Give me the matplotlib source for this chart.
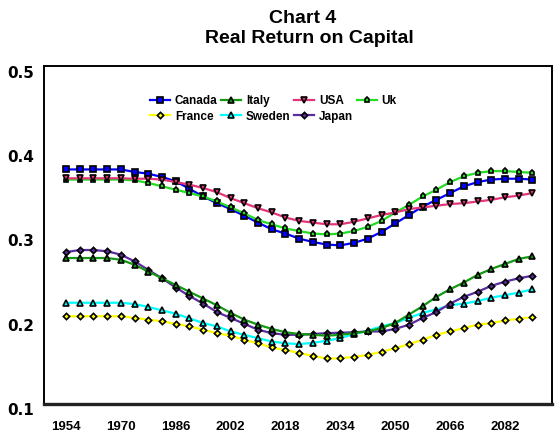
import matplotlib
matplotlib.use("Agg")
import matplotlib.pyplot as plt
from matplotlib.transforms import ScaledTranslation

years = [1954, 1958, 1962, 1966, 1970, 1974, 1978, 1982, 1986, 1990, 1994, 1998,
         2002, 2006, 2010, 2014, 2018, 2022, 2026, 2030, 2034, 2038, 2042, 2046,
         2050, 2054, 2058, 2062, 2066, 2070, 2074, 2078, 2082, 2086, 2090]

canada = [0.378, 0.378, 0.378, 0.378, 0.378, 0.375, 0.373, 0.369, 0.364, 0.355, 0.346, 0.338,
          0.331, 0.323, 0.315, 0.307, 0.302, 0.296, 0.292, 0.289, 0.288, 0.291, 0.296, 0.304,
          0.314, 0.324, 0.334, 0.342, 0.350, 0.358, 0.363, 0.366, 0.367, 0.367, 0.366]
italy = [0.273, 0.273, 0.273, 0.273, 0.271, 0.265, 0.257, 0.249, 0.241, 0.233, 0.225, 0.217,
         0.208, 0.200, 0.194, 0.189, 0.185, 0.183, 0.182, 0.181, 0.182, 0.184, 0.186, 0.190,
         0.196, 0.206, 0.216, 0.227, 0.236, 0.244, 0.253, 0.260, 0.266, 0.272, 0.275]
usa = [0.3675, 0.3675, 0.3675, 0.3675, 0.3675, 0.367, 0.367, 0.366, 0.363, 0.360, 0.356, 0.351,
       0.344, 0.338, 0.332, 0.327, 0.321, 0.317, 0.315, 0.313, 0.313, 0.316, 0.320, 0.324,
       0.327, 0.331, 0.333, 0.335, 0.337, 0.338, 0.340, 0.342, 0.345, 0.347, 0.350]
uk = [0.366, 0.366, 0.366, 0.366, 0.366, 0.365, 0.362, 0.358, 0.354, 0.350, 0.346, 0.340,
      0.333, 0.326, 0.318, 0.313, 0.308, 0.305, 0.302, 0.301, 0.302, 0.305, 0.310, 0.317,
      0.327, 0.336, 0.346, 0.354, 0.363, 0.370, 0.374, 0.376, 0.376, 0.375, 0.374]
france = [0.204, 0.204, 0.204, 0.204, 0.204, 0.202, 0.200, 0.198, 0.195, 0.192, 0.188, 0.184,
          0.181, 0.176, 0.172, 0.167, 0.164, 0.1605, 0.157, 0.154, 0.154, 0.156, 0.158, 0.162,
          0.166, 0.171, 0.176, 0.182, 0.186, 0.190, 0.194, 0.196, 0.199, 0.201, 0.203]
sweden = [0.220, 0.220, 0.220, 0.220, 0.220, 0.2185, 0.215, 0.211, 0.207, 0.2015, 0.196, 0.192,
          0.186, 0.182, 0.178, 0.174, 0.172, 0.171, 0.1725, 0.175, 0.178, 0.183, 0.187, 0.192,
          0.196, 0.202, 0.208, 0.212, 0.217, 0.219, 0.222, 0.226, 0.229, 0.232, 0.236]
japan = [0.280, 0.2825, 0.2825, 0.281, 0.277, 0.269, 0.259, 0.249, 0.238, 0.228, 0.219, 0.209,
         0.202, 0.195, 0.188, 0.184, 0.182, 0.182, 0.183, 0.184, 0.1845, 0.185, 0.186, 0.186,
         0.189, 0.194, 0.202, 0.209, 0.219, 0.227, 0.233, 0.240, 0.245, 0.249, 0.252]

series_names = ["Canada", "Italy", "USA", "Uk", "France", "Sweden", "Japan"]
x_tick_labels = ["1954", "1970", "1986", "2002", "2018", "2034", "2050", "2066", "2082"]
y_ticks = [0.1, 0.2, 0.3, 0.4, 0.5]

colors = {"Canada": "#0000FF", "Italy": "#119911", "USA": "#E6347A", "Uk": "#22DD22",
          "France": "#FFFF00", "Sweden": "#00FFFF", "Japan": "#5B2CA0"}
markers = {"Canada": "s", "Italy": "^", "USA": "v", "Uk": "p",
           "France": "D", "Sweden": "^", "Japan": "D"}
values = {"Canada": canada, "Italy": italy, "USA": usa, "Uk": uk,
          "France": france, "Sweden": sweden, "Japan": japan}

plt.rcParams["font.family"] = ["Liberation Sans", "DejaVu Sans"]

W, H = 555, 436
fig = plt.figure(figsize=(W / 100, H / 100), dpi=100)
ax = fig.add_axes([44 / W, (H - 404) / H, (552 - 44) / W, (404 - 66.5) / H])

handles = {}
draw_order = ["France", "Sweden", "Japan", "Italy", "Canada", "Uk", "USA"]
for name in draw_order:
    ms = 3.2 if markers[name] == "D" else 3.7
    h, = ax.plot(years, values[name], color=colors[name], lw=1.6,
                 marker=markers[name], markersize=ms, markeredgecolor="black",
                 markeredgewidth=1.2, markerfacecolor=colors[name], label=name)
    handles[name] = h

ax.set_xlim(1947.6, 2095.7)
ax.set_ylim(0.1, 0.5)
ax.set_xticks([int(t) for t in x_tick_labels])
ax.set_xticklabels(x_tick_labels, fontsize=9.5, fontweight="bold")
ax.set_yticks(y_ticks)
ax.set_yticklabels([f"{v:.1f}" for v in y_ticks], fontsize=11, fontweight="bold",
                   family="DejaVu Sans")
ax.tick_params(axis="both", length=0)
ax.tick_params(axis="x", pad=12)
ax.tick_params(axis="y", pad=7)

off = ScaledTranslation(0, -5 / 100, fig.dpi_scale_trans)
for lab in ax.get_yticklabels():
    lab.set_transform(lab.get_transform() + off)

for side in ["left", "right", "top"]:
    ax.spines[side].set_linewidth(1.4)
    ax.spines[side].set_color("black")
ax.spines["bottom"].set_linewidth(2.4)
ax.spines["bottom"].set_color("#222222")

order = ["Canada", "France", "Italy", "Sweden", "USA", "Japan", "Uk"]
leg = fig.legend([handles[n] for n in order], order, loc="upper left",
                 bbox_to_anchor=(150 / W, 1 - 95 / H), ncol=4, frameon=False,
                 prop={"family": "Liberation Sans", "weight": "bold", "size": 8.5},
                 handlelength=1.7, handletextpad=0.4, columnspacing=0.3,
                 labelspacing=0.3, borderpad=0, borderaxespad=0)

fig.text(303 / W, 1 - 23.3 / H, "Chart 4", ha="center", va="baseline",
         fontsize=14, fontweight="bold")
fig.text(309 / W, 1 - 42.7 / H, "Real Return on Capital", ha="center", va="baseline",
         fontsize=14, fontweight="bold")

fig.savefig("out.png", dpi=100)
